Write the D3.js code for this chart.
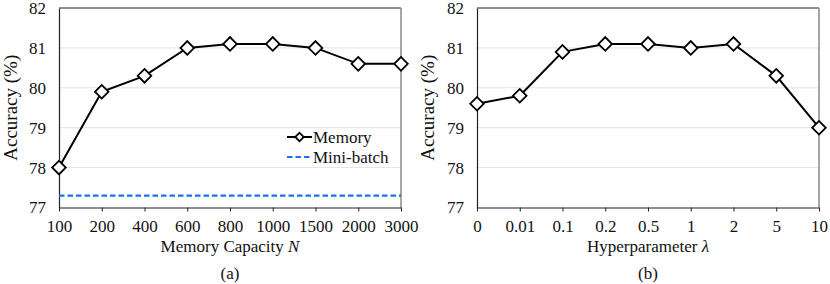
<!DOCTYPE html>
<html>
<head>
<meta charset="utf-8">
<script src="https://cdn.jsdelivr.net/npm/d3@7"></script>
<style>
  body { margin: 0; background: #fff; }
  text { font-family: "Liberation Serif", "DejaVu Serif", serif; fill: #111; }
</style>
</head>
<body>
<div id="chart"></div>
<script>
const width = 830;
const height = 284;

// panel (a)
const capacityLabels = ["100", "200", "400", "600", "800", "1000", "1500", "2000", "3000"];
const memoryAcc = [78.0, 79.9, 80.3, 81.0, 81.1, 81.1, 81.0, 80.6, 80.6];
const miniBatchAcc = 77.3;

// panel (b)
const lambdaLabels = ["0", "0.01", "0.1", "0.2", "0.5", "1", "2", "5", "10"];
const lambdaAcc = [79.6, 79.8, 80.9, 81.1, 81.1, 81.0, 81.1, 80.3, 79.0];

const yTicks = [77, 78, 79, 80, 81, 82];

const svg = d3.select("#chart").append("svg")
  .attr("width", width)
  .attr("height", height);

function panel(opts) {
  const { left, right, top, bottom, labels, xTitle, sub, yTitleX } = opts;
  const g = svg.append("g");

  const x = d3.scalePoint().domain(labels).range([left, right]).padding(0);
  const y = d3.scaleLinear().domain([77, 82]).range([bottom, top]);

  // grid
  g.selectAll(".grid")
    .data(yTicks.slice(1, -1))
    .enter().append("line")
    .attr("x1", left).attr("x2", right)
    .attr("y1", d => y(d)).attr("y2", d => y(d))
    .attr("stroke", "#e3e3e3").attr("stroke-width", 1);

  // frame
  g.append("line").attr("x1", left).attr("x2", right).attr("y1", top).attr("y2", top)
    .attr("stroke", "#222").attr("stroke-width", 1);
  g.append("line").attr("x1", right).attr("x2", right).attr("y1", top).attr("y2", bottom)
    .attr("stroke", "#888").attr("stroke-width", 1.5);

  // y axis
  const yAxis = g.append("g")
    .attr("transform", `translate(${left},0)`)
    .call(d3.axisLeft(y).tickValues(yTicks).tickFormat(d3.format("d")).tickSize(0).tickPadding(13));
  yAxis.select(".domain").attr("stroke", "#222").attr("stroke-width", 1.2);
  yAxis.selectAll("text").style("font-size", "17px").attr("fill", "#111")
    .style("font-family", "Liberation Serif");

  // x axis
  const xAxis = g.append("g")
    .attr("transform", `translate(0,${bottom})`)
    .call(d3.axisBottom(x).tickSize(4).tickSizeOuter(0).tickPadding(8));
  xAxis.select(".domain").attr("stroke", "#222").attr("stroke-width", 1.2);
  xAxis.selectAll("line").attr("stroke", "#222");
  xAxis.selectAll("text").style("font-size", "17px").attr("fill", "#111")
    .style("font-family", "Liberation Serif");

  // y title
  g.append("text")
    .attr("transform", `translate(${yTitleX},${(top + bottom) / 2}) rotate(-90)`)
    .attr("text-anchor", "middle")
    .attr("dy", "0.35em")
    .style("font-size", "19px")
    .text("Accuracy (%)");

  // x title
  const xt = g.append("text")
    .attr("x", (left + right) / 2)
    .attr("y", 252)
    .attr("text-anchor", "middle")
    .style("font-size", "17px");
  xt.append("tspan").text(xTitle[0]);
  xt.append("tspan").style("font-style", "italic").text(xTitle[1]);

  g.append("text")
    .attr("x", (left + right) / 2)
    .attr("y", 279)
    .attr("text-anchor", "middle")
    .style("font-size", "17px")
    .text(sub);

  return { g, x, y };
}

function drawSeries(p, labels, values) {
  const line = d3.line().x((d, i) => p.x(labels[i])).y(d => p.y(d));
  p.g.append("path")
    .datum(values)
    .attr("d", line)
    .attr("fill", "none")
    .attr("stroke", "#000")
    .attr("stroke-width", 2);
  p.g.selectAll(".pt")
    .data(values)
    .enter().append("path")
    .attr("transform", (d, i) => `translate(${p.x(labels[i])},${p.y(d)}) rotate(45)`)
    .attr("d", "M-4.8,-4.8H4.8V4.8H-4.8Z")
    .attr("fill", "#fff")
    .attr("stroke", "#000")
    .attr("stroke-width", 1.8);
}

const pa = panel({
  left: 59, right: 401, top: 8, bottom: 207.5,
  labels: capacityLabels,
  xTitle: ["Memory Capacity ", "N"], sub: "(a)", yTitleX: 10
});

// mini-batch baseline
pa.g.append("line")
  .attr("x1", pa.x(capacityLabels[0])).attr("x2", pa.x(capacityLabels[capacityLabels.length - 1]))
  .attr("y1", pa.y(miniBatchAcc)).attr("y2", pa.y(miniBatchAcc))
  .attr("stroke", "#1f6ff2").attr("stroke-width", 2.2)
  .attr("stroke-dasharray", "5.5,3");

drawSeries(pa, capacityLabels, memoryAcc);

// legend
const lg = pa.g.append("g");
lg.append("line").attr("x1", 287).attr("x2", 312).attr("y1", 137).attr("y2", 137)
  .attr("stroke", "#000").attr("stroke-width", 2);
lg.append("path").attr("transform", "translate(299.5,137) rotate(45)")
  .attr("d", "M-3,-3H3V3H-3Z").attr("fill", "#fff").attr("stroke", "#000").attr("stroke-width", 1.8);
lg.append("text").attr("x", 313).attr("y", 137).attr("dy", "0.35em")
  .style("font-size", "17px").text("Memory");
lg.append("line").attr("x1", 287).attr("x2", 312).attr("y1", 157).attr("y2", 157)
  .attr("stroke", "#1f6ff2").attr("stroke-width", 2.2).attr("stroke-dasharray", "5.5,3");
lg.append("text").attr("x", 313).attr("y", 157).attr("dy", "0.35em")
  .style("font-size", "17px").text("Mini-batch");

const pb = panel({
  left: 477, right: 819, top: 8, bottom: 207.5,
  labels: lambdaLabels,
  xTitle: ["Hyperparameter ", "λ"], sub: "(b)", yTitleX: 427
});
drawSeries(pb, lambdaLabels, lambdaAcc);
</script>
</body>
</html>
